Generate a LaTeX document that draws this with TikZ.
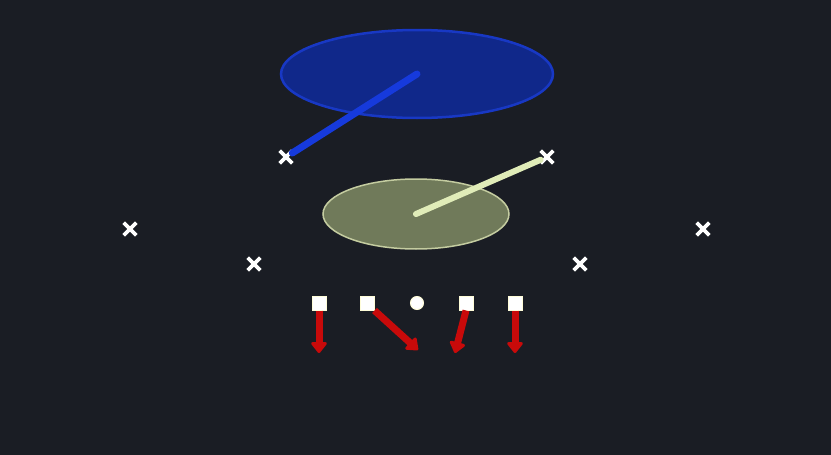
\documentclass[tikz,border=0pt]{standalone}
\usetikzlibrary{shapes.misc,shapes.geometric,arrows.meta}
\definecolor{field}{RGB}{26,29,36}
\definecolor{zoneblue}{RGB}{16,40,138}
\definecolor{zoneblueedge}{RGB}{24,56,196}
\definecolor{lineblue}{RGB}{22,58,220}
\definecolor{zoneolive}{RGB}{112,122,90}
\definecolor{zoneoliveedge}{RGB}{196,204,160}
\definecolor{lineolive}{RGB}{224,236,184}
\definecolor{routered}{RGB}{200,10,10}
\tikzset{
defender/.style={draw=white,cross out,line width=3.6pt,minimum size=9pt,inner sep=0pt},
lineman/.style={draw=white!85!yellow,fill=white,line width=1pt,minimum size=14pt,inner sep=0pt},
snapper/.style={draw=white!85!yellow,fill=white,circle,line width=1pt,minimum size=13pt,inner sep=0pt},
route/.style={draw=routered,line width=7pt,-{Triangle[length=12pt,width=18pt,round]}},
}
\begin{document}
\begin{tikzpicture}[x=1pt,y=-1pt]
\useasboundingbox[fill=field] (0,0) rectangle (831,455);

%Deep Zone
\node[draw=zoneblueedge,fill=zoneblue,ellipse,line width=2.5pt,
minimum width=272pt,minimum height=88pt] (deep) at (417,74){};

%Short Zone
\node[draw=zoneoliveedge,fill=zoneolive,ellipse,line width=1.5pt,
minimum width=186pt,minimum height=70pt] (short) at (416,214){};

%Defenders
\node[defender] (dl) at (286,157){};
\node[defender] (dr) at (547,157){};
\node[defender] (cl) at (130,229){};
\node[defender] (cr) at (703,229){};
\node[defender] (ll) at (254,264){};
\node[defender] (lr) at (580,264){};

\draw[lineblue,line width=7pt,line cap=round] (deep.center) -- (dl);
\draw[lineolive,line width=6pt,line cap=round] (short.center) -- (dr);

%Line
\node[lineman] (lt) at (319,303){};
\node[lineman] (lg) at (367,303){};
\node[snapper] (c) at (417,303){};
\node[lineman] (rg) at (466,303){};
\node[lineman] (rt) at (515,303){};

%Blocks
\coordinate (ltend) at (319,353);
\coordinate (lgend) at (418,350);
\coordinate (rgend) at (455,353);
\coordinate (rtend) at (515,353);

\draw[route] (lt.south) -- (ltend);
\draw[route] (lg.south east) -- (lgend);
\draw[route] (rg.south) -- (rgend);
\draw[route] (rt.south) -- (rtend);
\end{tikzpicture}
\end{document}
